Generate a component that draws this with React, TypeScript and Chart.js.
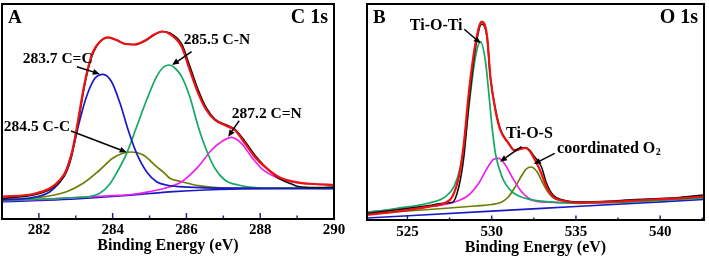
import React, { useEffect, useRef } from 'react';
import { Chart, registerables } from 'chart.js';

Chart.register(...registerables);

type Pt = [number, number];

const SERIF = "'Liberation Serif', 'Times New Roman', Times, serif";

// ---------------- Panel A : C 1s ----------------
const c1sTickLabels = [282, 284, 286, 288, 290];
const c1sMinorTicks = [283, 285, 287, 289];
const c1sMajorTicks = [282, 284, 286, 288];

const c1sFit: Pt[] = [
  [281.0, 22.3], [281.85, 25], [282.3, 30.7], [282.57, 39], [282.75, 49], [282.89, 65.7],
  [283.0, 85.7], [283.11, 109], [283.22, 132.3], [283.34, 152.3], [283.47, 167.3], [283.65, 177.3],
  [283.88, 181.7], [284.1, 179], [284.3, 175.5], [284.6, 174.5], [284.9, 179], [285.1, 184],
  [285.35, 187.5], [285.55, 185], [285.87, 172.3], [286.09, 149], [286.32, 125.7], [286.54, 109],
  [286.77, 99], [287.09, 93], [287.31, 89], [287.58, 76], [287.85, 62.3], [288.12, 52.3],
  [288.49, 42.3], [289.03, 36.3], [289.5, 35], [290.0, 34],
];
const c1sRaw: Pt[] = [
  [281.0, 20.5], [281.85, 24], [282.3, 29.5], [282.57, 37], [282.75, 47], [282.89, 63],
  [283.0, 83], [283.11, 106], [283.22, 130], [283.34, 150.5], [283.47, 166], [283.65, 177],
  [283.88, 181.5], [284.1, 179], [284.3, 175.5], [284.6, 174.5], [284.9, 178.5], [285.1, 183.5],
  [285.35, 187.5], [285.55, 186], [285.87, 175], [286.09, 153], [286.32, 129], [286.54, 111],
  [286.77, 100], [287.09, 94], [287.31, 90], [287.58, 78], [287.85, 64], [288.12, 53],
  [288.49, 41], [288.85, 35], [289.03, 32.5], [289.5, 31.5], [290.0, 32],
];
const c1sCeqC: Pt[] = [
  [281.0, 19], [281.85, 21.7], [282.3, 27.3], [282.66, 42.3], [282.89, 65.7], [283.11, 99],
  [283.29, 122.3], [283.52, 140.7], [283.74, 144.7], [283.97, 137.3], [284.2, 115.7], [284.42, 89],
  [284.65, 65.7], [284.92, 47.3], [285.19, 37.3], [285.46, 34], [285.8, 32.3], [286.5, 31.2],
  [287.5, 30.8], [288.5, 30.7], [290.0, 30.7],
];
const c1sCC: Pt[] = [
  [281.0, 19], [281.85, 20.7], [282.75, 27.3], [283.2, 35.7], [283.65, 49], [284.0, 60.7],
  [284.28, 65.7], [284.51, 67], [284.83, 64], [285.19, 52.3], [285.41, 45.7], [285.55, 40.7],
  [285.87, 37.3], [286.32, 33.3], [287.0, 31], [288.0, 30.7], [290.0, 30.7],
];
const c1sCN: Pt[] = [
  [281.0, 18.5], [282.5, 20.5], [283.0, 21.5], [283.38, 22.5], [283.65, 25.7], [283.9, 34],
  [284.1, 45.7], [284.38, 65.7], [284.65, 92.3], [284.92, 119], [285.19, 142.3], [285.35, 151],
  [285.52, 154], [285.7, 150.5], [285.87, 142.3], [286.09, 122.3], [286.32, 92.3], [286.54, 69],
  [286.77, 50.7], [287.04, 39], [287.4, 34], [288.0, 31], [290.0, 30.7],
];
const c1sCeqN: Pt[] = [
  [281.0, 18.3], [282.0, 19.5], [283.0, 21.5], [284.0, 23.3], [284.5, 24.5], [285.0, 27.3],
  [285.41, 30.7], [285.87, 37.3], [286.32, 52.3], [286.68, 69], [286.95, 77.3], [287.22, 81.7],
  [287.49, 75.7], [287.76, 62.3], [288.03, 50.7], [288.4, 42.3], [288.85, 37.3], [289.39, 35],
  [289.93, 34],
];
const c1sBackground: Pt[] = [
  [281.0, 17.3], [282.0, 18.5], [283.0, 20], [284.0, 22.5], [285.0, 25.5], [285.64, 27.3],
  [286.5, 29], [287.5, 30], [288.5, 30.5], [290.0, 30.7],
];
const c1sLabels = [
  { text: '283.7 C=C', x: 281.56, y: 160.5 },
  { text: '284.5 C-C', x: 281.05, y: 92.5 },
  { text: '285.5 C-N', x: 285.93, y: 179 },
  { text: '287.2 C=N', x: 287.23, y: 105.5 },
];
const c1sArrows = [
  [283.03, 152.3, 283.65, 145],
  [282.87, 88, 284.38, 66.7],
  [286.14, 167.3, 285.61, 154],
  [287.43, 98.3, 287.13, 82.3],
];

// ---------------- Panel B : O 1s ----------------
const o1sTickLabels = [525, 530, 535, 540];
const o1sMajorTicks = [525, 530, 535, 540];
const o1sMinorTicks = [527.5, 532.5, 537.5, 542.5];

const o1sFit: Pt[] = [
  [522.6, 5], [524.3, 8.3], [526.28, 13.3], [527.26, 17.3], [527.66, 23.3], [528.05, 43.3],
  [528.35, 76.7], [528.64, 126.7], [529.04, 176.7], [529.41, 198.3], [529.73, 183.3], [529.92, 143.3],
  [530.22, 110], [530.51, 90], [531.0, 76.7], [531.35, 69.5], [531.7, 71], [532.0, 72],
  [532.3, 68], [532.46, 63.3], [532.86, 50], [533.25, 33.3], [533.64, 23.3], [534.23, 19.3],
  [535.22, 17.3], [537.19, 18.3], [539.16, 20], [541.13, 21.7], [542.6, 23.3],
];
const o1sRaw: Pt[] = [
  [522.6, 6.5], [524.3, 10], [526.28, 14.5], [527.26, 17], [527.66, 17.5], [528.05, 33.3],
  [528.35, 63.3], [528.64, 115], [529.04, 172], [529.41, 196], [529.73, 182], [529.92, 143],
  [530.22, 111], [530.51, 91], [531.0, 77], [531.35, 70], [531.7, 71.5], [532.0, 72.5],
  [532.3, 69], [532.46, 65], [532.95, 53.3], [533.25, 37], [533.64, 25], [534.23, 20],
  [535.22, 18], [537.19, 19], [539.16, 21], [541.13, 22.5], [542.6, 25],
];
const o1sTiOTi: Pt[] = [
  [522.6, 7.5], [524.31, 11.5], [526.28, 17], [527.26, 23.3], [527.76, 33.3], [528.15, 53.3],
  [528.44, 83.3], [528.74, 126.7], [529.04, 163.3], [529.33, 178.3], [529.62, 160], [529.83, 126.7],
  [530.02, 93.3], [530.22, 66.7], [530.61, 43.3], [531.2, 28.3], [531.99, 21.7], [532.68, 19.3],
  [533.25, 18.3], [535.2, 16.7], [537.5, 17.5], [540.0, 19.5], [542.6, 22],
];
const o1sTiOS: Pt[] = [
  [522.6, 8], [524.3, 10.5], [526.28, 13.3], [527.85, 18.3], [528.64, 25], [529.23, 36.7],
  [529.73, 51.7], [530.12, 60.7], [530.42, 61.7], [530.81, 55], [531.2, 43.3], [531.69, 30],
  [532.19, 21.7], [532.68, 18.5], [533.25, 17.8], [535.0, 17.3], [537.5, 17.8], [540.0, 19.8],
  [542.6, 22.2],
];
const o1sCoordO2: Pt[] = [
  [522.6, 6], [525.0, 9], [527.5, 12], [529.0, 14], [530.0, 15.5], [530.6, 18],
  [531.0, 23.3], [531.4, 33.3], [531.8, 45], [532.05, 51], [532.33, 53], [532.7, 48],
  [533.0, 38], [533.3, 29], [533.6, 23], [534.0, 20], [535.0, 18], [537.0, 18.5],
  [540.0, 20.5], [542.6, 23],
];
const o1sBackground: Pt[] = [
  [522.6, 2], [530.0, 8.8], [535.0, 13.5], [542.6, 20.6],
];
const o1sLabels = [
  { text: 'Ti-O-Ti', x: 525.14, y: 194 },
  { text: 'Ti-O-S', x: 530.85, y: 86 },
  { text: 'coordinated O', sub: '2', x: 533.88, y: 71 },
];
const o1sArrows = [
  [528.37, 190.7, 529.35, 176.7],
  [531.77, 73.3, 530.49, 58.3],
  [533.74, 66.7, 532.5, 56],
];

// ---------------- styling ----------------
const COLORS = {
  fit: '#ee1111',
  raw: '#111111',
  blue: '#1a1ac4',
  green: '#14a862',
  olive: '#6b7f05',
  magenta: '#ee22ee',
};
const TICK_COLOR = '#24248c';

function drawArrow(ctx: any, x1: number, y1: number, x2: number, y2: number) {
  const ang = Math.atan2(y2 - y1, x2 - x1);
  const c = Math.cos(ang), s = Math.sin(ang);
  const head = 7, half = 3;
  ctx.strokeStyle = '#000';
  ctx.fillStyle = '#000';
  ctx.lineWidth = 1.5;
  ctx.beginPath();
  ctx.moveTo(x1, y1);
  ctx.lineTo(x2 - head * c, y2 - head * s);
  ctx.stroke();
  ctx.beginPath();
  ctx.moveTo(x2, y2);
  ctx.lineTo(x2 - head * c + half * s, y2 - head * s - half * c);
  ctx.lineTo(x2 - head * c - half * s, y2 - head * s + half * c);
  ctx.closePath();
  ctx.fill();
}

function makePanelPlugin(cfg: any) {
  return {
    id: 'xpsPanel',
    afterDatasetsDraw(chart: any) {
      const { ctx, chartArea: a } = chart;
      const xs = chart.scales.x;
      const ys = chart.scales.y;
      ctx.save();
      ctx.strokeStyle = TICK_COLOR;
      ctx.lineWidth = 1.5;
      const tick = (v: number, len: number) => {
        const px = xs.getPixelForValue(v);
        ctx.beginPath();
        ctx.moveTo(px, a.bottom);
        ctx.lineTo(px, a.bottom - len);
        ctx.stroke();
      };
      cfg.major.forEach((v: number) => tick(v, cfg.majorLen));
      cfg.minor.forEach((v: number) => tick(v, cfg.minorLen));

      ctx.strokeStyle = '#000';
      ctx.lineWidth = 2;
      ctx.strokeRect(a.left, a.top, a.right - a.left, a.bottom - a.top);

      ctx.fillStyle = '#000';
      ctx.textBaseline = 'middle';
      ctx.textAlign = 'left';
      cfg.labels.forEach((l: any) => {
        const x = xs.getPixelForValue(l.x);
        const y = ys.getPixelForValue(l.y);
        ctx.font = `bold ${cfg.labelSize}px ${SERIF}`;
        ctx.fillText(l.text, x, y);
        if (l.sub) {
          const w = ctx.measureText(l.text).width;
          ctx.font = `bold ${Math.round(cfg.labelSize * 0.62)}px ${SERIF}`;
          ctx.fillText(l.sub, x + w + 0.5, y + 3);
        }
      });
      cfg.arrows.forEach((r: number[]) =>
        drawArrow(ctx, xs.getPixelForValue(r[0]), ys.getPixelForValue(r[1]), xs.getPixelForValue(r[2]), ys.getPixelForValue(r[3]))
      );

      ctx.font = `bold 19px ${SERIF}`;
      ctx.textAlign = 'left';
      ctx.fillText(cfg.letter, a.left + 6, a.top + 14);
      ctx.font = `bold 20px ${SERIF}`;
      ctx.textAlign = 'right';
      ctx.fillText(cfg.region, a.right - 6, a.top + 14);
      ctx.restore();
    },
  };
}

const ds = (pts: Pt[], color: string, width: number) => ({
  data: pts.map(([x, y]) => ({ x, y })),
  borderColor: color,
  backgroundColor: color,
  borderWidth: width,
  pointRadius: 0,
  fill: false,
  cubicInterpolationMode: 'monotone',
});

function buildConfig(p: any) {
  return {
    type: 'line',
    data: { datasets: p.datasets },
    options: {
      animation: false,
      responsive: false,
      events: [],
      layout: { padding: { left: p.padLeft, right: p.padRight, top: 4, bottom: 0 } },
      plugins: { legend: { display: false }, tooltip: { enabled: false } },
      scales: {
        x: {
          type: 'linear',
          min: p.min,
          max: p.max,
          grid: { display: false, drawTicks: false },
          border: { display: false },
          afterBuildTicks: (s: any) => {
            s.ticks = p.tickLabels.map((v: number) => ({ value: v }));
          },
          afterFit: (s: any) => {
            s.height = p.axisHeight;
          },
          ticks: {
            padding: p.tickPad,
            color: '#000',
            autoSkip: false,
            maxRotation: 0,
            font: { family: SERIF, size: 15, weight: 'bold' },
            callback: (v: any) => String(v),
          },
          title: {
            display: true,
            text: 'Binding Energy (eV)',
            color: '#000',
            font: { family: SERIF, size: 16, weight: 'bold' },
            padding: { top: 0, bottom: p.titlePad },
          },
        },
        y: { display: false, min: 0, max: p.yMax },
      },
    },
    plugins: [makePanelPlugin(p.panel)],
  };
}

const panelA = {
  min: 281, max: 290, yMax: 215,
  padLeft: 2, padRight: 21, axisHeight: 39, tickPad: 1.7, titlePad: 2.4,
  tickLabels: c1sTickLabels,
  datasets: [
    ds(c1sFit, COLORS.fit, 2.2),
    ds(c1sRaw, COLORS.raw, 1.6),
    ds(c1sCeqC, COLORS.blue, 1.7),
    ds(c1sCN, COLORS.green, 1.7),
    ds(c1sCeqN, COLORS.magenta, 1.7),
    ds(c1sCC, COLORS.olive, 1.7),
    ds(c1sBackground, COLORS.blue, 1.7),
  ],
  panel: {
    letter: 'A', region: 'C 1s', labelSize: 15.5,
    labels: c1sLabels, arrows: c1sArrows,
    major: c1sMajorTicks, minor: c1sMinorTicks, majorLen: 6, minorLen: 3.5,
  },
};

const panelB = {
  min: 522.6, max: 542.6, yMax: 216,
  padLeft: 12, padRight: 5, axisHeight: 38, tickPad: 3.5, titlePad: 0.4,
  tickLabels: o1sTickLabels,
  datasets: [
    ds(o1sFit, COLORS.fit, 2.2),
    ds(o1sRaw, COLORS.raw, 1.6),
    ds(o1sTiOTi, COLORS.green, 1.7),
    ds(o1sTiOS, COLORS.magenta, 1.7),
    ds(o1sCoordO2, COLORS.olive, 1.7),
    ds(o1sBackground, COLORS.blue, 1.7),
  ],
  panel: {
    letter: 'B', region: 'O 1s', labelSize: 16,
    labels: o1sLabels, arrows: o1sArrows,
    major: o1sMajorTicks, minor: o1sMinorTicks, majorLen: 4.5, minorLen: 2.5,
  },
};

function XpsPanel({ cfg, left, width }: { cfg: any; left: number; width: number }) {
  const ref = useRef<HTMLCanvasElement>(null);
  useEffect(() => {
    const chart = new Chart(ref.current as HTMLCanvasElement, buildConfig(cfg) as any);
    return () => chart.destroy();
  }, [cfg]);
  return (
    <canvas
      ref={ref}
      width={width}
      height={258}
      style={{ position: 'absolute', left, top: 0, width, height: 258 }}
    />
  );
}

export default function App() {
  return (
    <div style={{ position: 'fixed', left: 0, top: 0, width: 709, height: 258, background: '#fff', overflow: 'hidden' }}>
      <XpsPanel cfg={panelA} left={0} width={355} />
      <XpsPanel cfg={panelB} left={355} width={354} />
    </div>
  );
}
